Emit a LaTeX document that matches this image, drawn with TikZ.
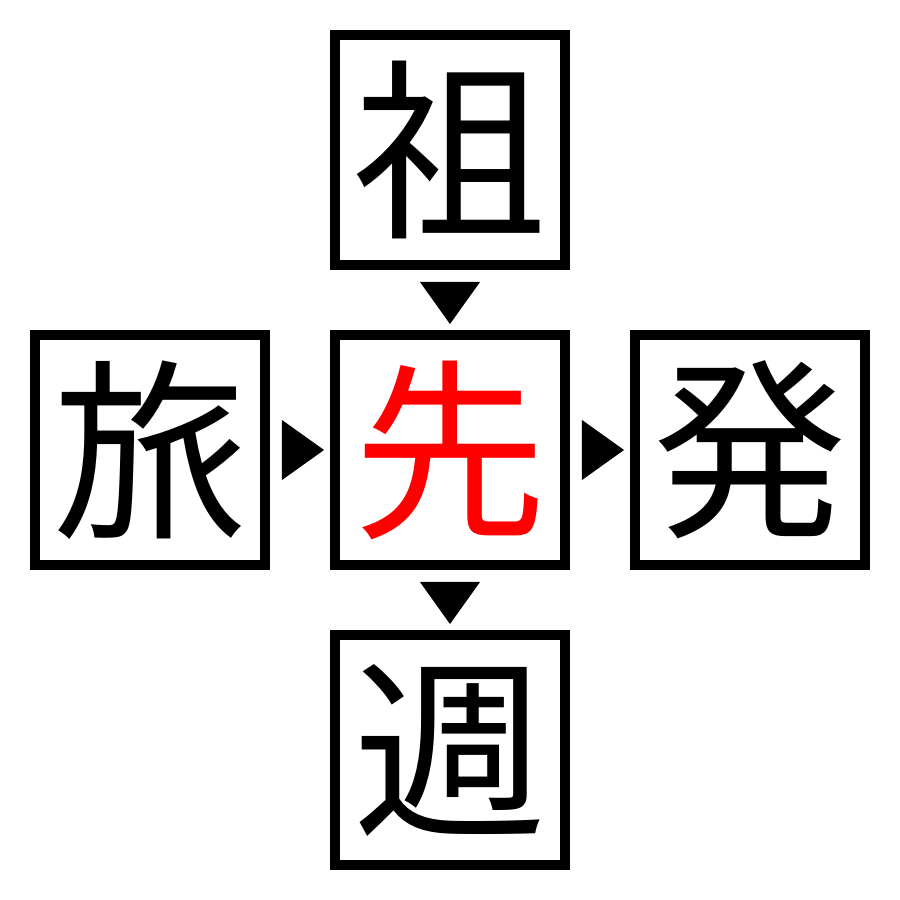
\documentclass[tikz,border=0pt]{standalone}
\usepackage{fontspec}
\newfontfamily\cjk{Noto Sans CJK JP}
\begin{document}
\begin{tikzpicture}[x=0.01cm,y=-0.01cm,
  kbox/.style={draw=black,line width=0.1cm,minimum size=2.3cm,inner sep=0pt,outer sep=0pt,font=\cjk\fontsize{55}{60}\selectfont},
  tri/.style={fill=black,draw=none}]
\useasboundingbox (0,0) rectangle (900,900);
\fill[white] (0,0) rectangle (900,900);
\node[kbox] (top) at (450,150) {祖};
\node[kbox] (left) at (150,450) {旅};
\node[kbox,text=red] (center) at (450,450) {先};
\node[kbox] (right) at (750,450) {発};
\node[kbox] (bottom) at (450,750) {週};
\coordinate (t1) at (450,303);
\fill[tri] ([xshift=-0.3cm,yshift=0.21cm]t1) -- ([xshift=0.3cm,yshift=0.21cm]t1) -- ([yshift=-0.21cm]t1) -- cycle;
\coordinate (t2) at (450,603);
\fill[tri] ([xshift=-0.3cm,yshift=0.21cm]t2) -- ([xshift=0.3cm,yshift=0.21cm]t2) -- ([yshift=-0.21cm]t2) -- cycle;
\coordinate (t3) at (303,450);
\fill[tri] ([xshift=-0.21cm,yshift=0.3cm]t3) -- ([xshift=-0.21cm,yshift=-0.3cm]t3) -- ([xshift=0.21cm]t3) -- cycle;
\coordinate (t4) at (603,450);
\fill[tri] ([xshift=-0.21cm,yshift=0.3cm]t4) -- ([xshift=-0.21cm,yshift=-0.3cm]t4) -- ([xshift=0.21cm]t4) -- cycle;
\end{tikzpicture}
\end{document}
